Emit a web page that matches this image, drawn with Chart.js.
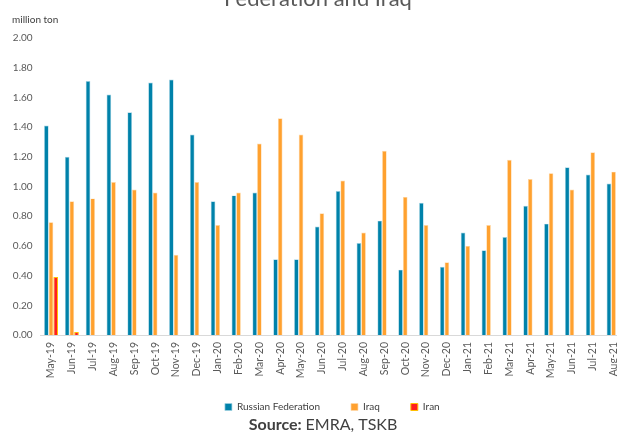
<!DOCTYPE html>
<html>
<head>
<meta charset="utf-8">
<script src="https://cdn.jsdelivr.net/npm/chart.js@4"></script>
<style>
  html, body { margin: 0; padding: 0; background: #fff; overflow: hidden; }
  canvas { display: block; }
</style>
</head>
<body>
<canvas id="chart" width="640" height="432"></canvas>
<script>
// monthly imports, million ton
const months = ['May-19', 'Jun-19', 'Jul-19', 'Aug-19', 'Sep-19', 'Oct-19', 'Nov-19', 'Dec-19',
  'Jan-20', 'Feb-20', 'Mar-20', 'Apr-20', 'May-20', 'Jun-20', 'Jul-20', 'Aug-20', 'Sep-20', 'Oct-20',
  'Nov-20', 'Dec-20', 'Jan-21', 'Feb-21', 'Mar-21', 'Apr-21', 'May-21', 'Jun-21', 'Jul-21', 'Aug-21'];

const russia = [1.41, 1.20, 1.71, 1.62, 1.50, 1.70, 1.72, 1.35, 0.90, 0.94, 0.96, 0.51, 0.51, 0.73,
  0.97, 0.62, 0.77, 0.44, 0.89, 0.46, 0.69, 0.57, 0.66, 0.87, 0.75, 1.13, 1.08, 1.02];

const iraq = [0.76, 0.90, 0.92, 1.03, 0.98, 0.96, 0.54, 1.03, 0.74, 0.96, 1.29, 1.46, 1.35, 0.82,
  1.04, 0.69, 1.24, 0.93, 0.74, 0.49, 0.60, 0.74, 1.18, 1.05, 1.09, 0.98, 1.23, 1.10];

const iran = [0.39, 0.02, null, null, null, null, null, null, null, null, null, null, null, null,
  null, null, null, null, null, null, null, null, null, null, null, null, null, null];

const FONT = 'Lato, "Open Sans", sans-serif';

// title, unit label and source line; legend pulled up under the month labels
const textPlugin = {
  id: 'texts',
  afterLayout(chart) {
    const lg = chart.legend;
    const d = 371 - lg.top;
    lg.top += d;
    lg.bottom += d;
  },
  afterDraw(chart) {
    const c = chart.ctx;
    c.save();
    c.fillStyle = '#595959';
    c.textAlign = 'center';
    c.textBaseline = 'alphabetic';
    c.font = '22px ' + FONT;
    c.fillText('Federation and Iraq', 318, 6);

    c.fillStyle = '#404040';
    c.textAlign = 'left';
    c.textBaseline = 'middle';
    c.font = '10px ' + FONT;
    c.fillText('million ton', 12, 20);

    c.textBaseline = 'alphabetic';
    c.font = 'bold 16px ' + FONT;
    const a = 'Source: ';
    const b = 'EMRA, TSKB';
    const wa = c.measureText(a).width;
    c.font = '16px ' + FONT;
    const wb = c.measureText(b).width;
    const x0 = 323 - (wa + wb) / 2;
    c.font = 'bold 16px ' + FONT;
    c.fillText(a, x0, 430);
    c.font = '16px ' + FONT;
    c.fillText(b, x0 + wa, 430);
    c.restore();
  }
};

new Chart(document.getElementById('chart'), {
  type: 'bar',
  data: {
    labels: months,
    datasets: [
      {
        label: 'Russian Federation',
        data: russia,
        backgroundColor: '#0082aa',
        borderColor: '#9fd2e3',
        borderWidth: 0.7
      },
      {
        label: 'Iraq',
        data: iraq,
        backgroundColor: '#ffa12f',
        borderColor: '#ffd9a8',
        borderWidth: 0.7
      },
      {
        label: 'Iran',
        data: iran,
        backgroundColor: '#ff1f1f',
        borderColor: '#ffc000',
        borderWidth: 1
      }
    ]
  },
  options: {
    responsive: false,
    animation: false,
    categoryPercentage: 0.67,
    barPercentage: 1.0,
    layout: { padding: { top: 38, right: 16, bottom: 0, left: 0 } },
    plugins: {
      title: { display: false },
      tooltip: { enabled: false },
      legend: {
        position: 'bottom',
        fullSize: false,
        labels: {
          boxWidth: 7,
          boxHeight: 7,
          padding: 31,
          color: '#404040',
          font: { family: FONT, size: 10 }
        }
      }
    },
    scales: {
      x: {
        grid: { display: false, drawTicks: false },
        border: { display: true, color: '#d9d9d9', width: 1 },
        afterFit(scale) { scale.height = 46; },
        ticks: {
          autoSkip: false,
          minRotation: 90,
          maxRotation: 90,
          padding: 7,
          color: '#595959',
          font: { family: FONT, size: 10.5 }
        }
      },
      y: {
        min: 0,
        max: 2,
        grid: { display: false, drawTicks: false },
        border: { display: false },
        afterFit(scale) { scale.width = 40.6; },
        ticks: {
          stepSize: 0.2,
          padding: 8,
          color: '#595959',
          font: { family: FONT, size: 10 },
          callback: v => v.toFixed(2)
        }
      }
    }
  },
  plugins: [textPlugin]
});
</script>
</body>
</html>
